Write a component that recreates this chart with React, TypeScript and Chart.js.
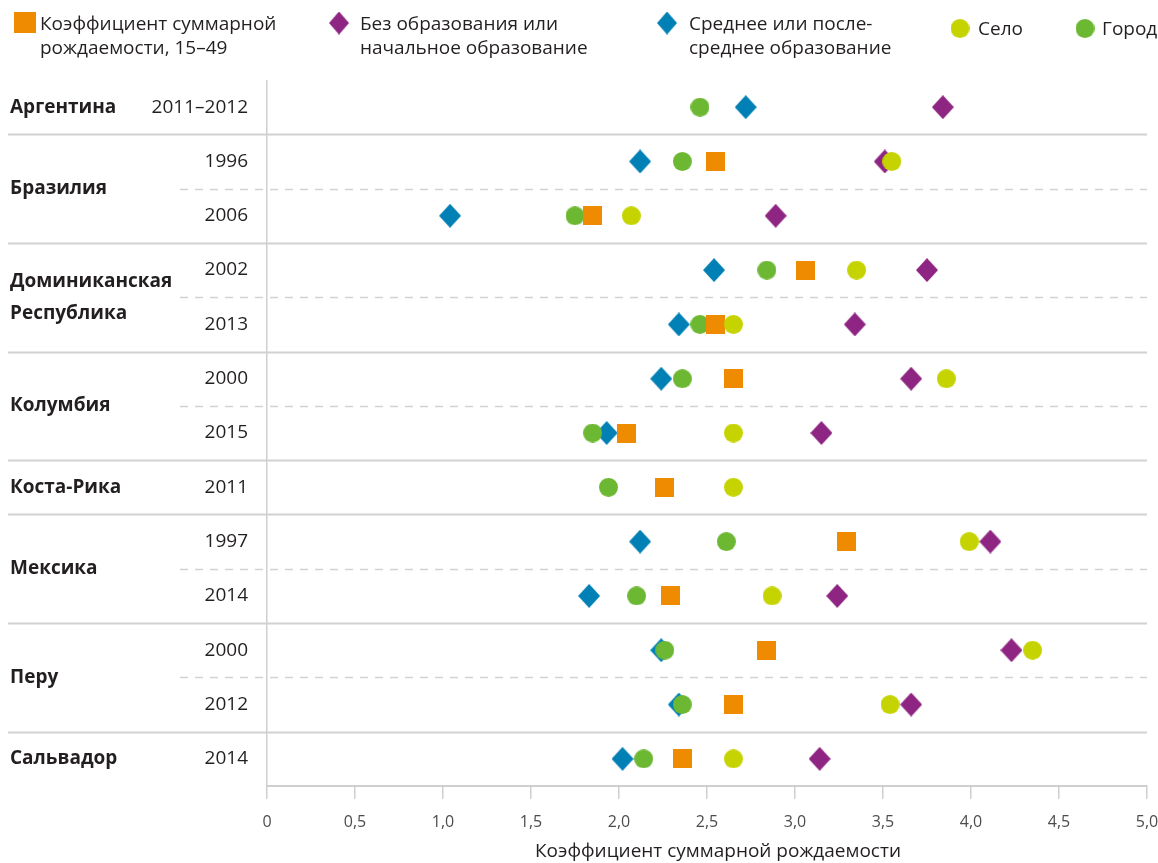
import React, { useEffect, useRef } from "react";
import { Chart, registerables } from "chart.js";
Chart.register(...registerables);

// ---- data ----
const countries: string[][] = [
  ["Аргентина"],
  ["Бразилия"],
  ["Доминиканская", "Республика"],
  ["Колумбия"],
  ["Коста-Рика"],
  ["Мексика"],
  ["Перу"],
  ["Сальвадор"],
];
const rowCountry = [0, 1, 1, 2, 2, 3, 3, 4, 5, 5, 6, 6, 7];
const years = ["2011–2012", "1996", "2006", "2002", "2013", "2000", "2015", "2011", "1997", "2014", "2000", "2012", "2014"];

const tfr: (number | null)[] = [null, 2.55, 1.85, 3.06, 2.55, 2.65, 2.04, 2.26, 3.29, 2.29, 2.84, 2.65, 2.36];
const noEdu: (number | null)[] = [3.84, 3.51, 2.89, 3.75, 3.34, 3.66, 3.15, null, 4.11, 3.24, 4.23, 3.66, 3.14];
const secEdu: (number | null)[] = [2.72, 2.12, 1.04, 2.54, 2.34, 2.24, 1.93, null, 2.12, 1.83, 2.24, 2.34, 2.02];
const rural: (number | null)[] = [null, 3.55, 2.07, 3.35, 2.65, 3.86, 2.65, 2.65, 3.99, 2.87, 4.35, 3.54, 2.65];
const urban: (number | null)[] = [2.46, 2.36, 1.75, 2.84, 2.46, 2.36, 1.85, 1.94, 2.61, 2.10, 2.26, 2.36, 2.14];

const xTicks = [0, 0.5, 1, 1.5, 2, 2.5, 3, 3.5, 4, 4.5, 5];
const axisTitle = "Коэффициент суммарной рождаемости";

const legendItems = [
  { key: "tfr", lines: ["Коэффициент суммарной", "рождаемости, 15–49"] },
  { key: "noEdu", lines: ["Без образования или", "начальное образование"] },
  { key: "secEdu", lines: ["Среднее или после-", "среднее образование"] },
  { key: "rural", lines: ["Село"] },
  { key: "urban", lines: ["Город"] },
];

const COLORS: Record<string, string> = {
  tfr: "#EE8B00",
  noEdu: "#8E2582",
  secEdu: "#0080B4",
  rural: "#C5D400",
  urban: "#6DB833",
};

const FONT = '"Open Sans", "Noto Sans", sans-serif';
const TEXT = "#231F20";

function makeMarker(kind: "square" | "diamond" | "circle", color: string): HTMLCanvasElement {
  const c = document.createElement("canvas");
  let w = 19, h = 19;
  if (kind === "diamond") { w = 22; h = 24; }
  c.width = w; c.height = h;
  const g = c.getContext("2d")!;
  g.fillStyle = color;
  if (kind === "square") {
    g.fillRect(0, 0, w, h);
  } else if (kind === "diamond") {
    g.beginPath();
    g.moveTo(w / 2, 0); g.lineTo(w, h / 2); g.lineTo(w / 2, h); g.lineTo(0, h / 2);
    g.closePath(); g.fill();
  } else {
    g.beginPath();
    g.ellipse(w / 2, h / 2, w / 2, h / 2, 0, 0, Math.PI * 2);
    g.fill();
  }
  return c;
}

function toPoints(arr: (number | null)[]) {
  const out: { x: number; y: number }[] = [];
  arr.forEach((v, i) => { if (v != null) out.push({ x: v, y: i }); });
  return out;
}

export default function App() {
  const ref = useRef<HTMLCanvasElement | null>(null);
  useEffect(() => {
    document.body.style.margin = "0";
    let chart: Chart | null = null;
    let cancelled = false;
    const build = () => {
      if (cancelled || !ref.current) return;
      const markers: Record<string, HTMLCanvasElement> = {
        tfr: makeMarker("square", COLORS.tfr),
        noEdu: makeMarker("diamond", COLORS.noEdu),
        secEdu: makeMarker("diamond", COLORS.secEdu),
        rural: makeMarker("circle", COLORS.rural),
        urban: makeMarker("circle", COLORS.urban),
      };
      const series: Record<string, (number | null)[]> = { tfr, noEdu, secEdu, rural, urban };
      const drawOrder: Record<string, number> = { rural: 1, noEdu: 2, tfr: 3, urban: 4, secEdu: 5 };

      const decor = {
        id: "decor",
        beforeDatasetsDraw(ch: any) {
          const { ctx, chartArea, scales } = ch;
          const y = scales.y;
          ctx.save();
          for (let i = 0; i < years.length - 1; i++) {
            const yy = Math.round(y.getPixelForValue(i + 0.5)) + 0.5;
            const same = rowCountry[i] === rowCountry[i + 1];
            ctx.beginPath();
            ctx.strokeStyle = "#D2D2D2";
            if (same) {
              ctx.lineWidth = 1.5;
              ctx.setLineDash([8, 7]);
              ctx.moveTo(180, yy);
            } else {
              ctx.lineWidth = 2;
              ctx.setLineDash([]);
              ctx.moveTo(8, yy);
            }
            ctx.lineTo(chartArea.right, yy);
            ctx.stroke();
          }
          ctx.setLineDash([]);
          // year labels
          ctx.fillStyle = TEXT;
          ctx.textBaseline = "middle";
          ctx.textAlign = "right";
          ctx.font = `19px ${FONT}`;
          years.forEach((yr, i) => ctx.fillText(yr, 248, y.getPixelForValue(i)));
          // country labels
          ctx.textAlign = "left";
          ctx.font = `bold 19px ${FONT}`;
          countries.forEach((lines, ci) => {
            const rows = rowCountry.map((c, i) => (c === ci ? i : -1)).filter((i) => i >= 0);
            const mid = (rows[0] + rows[rows.length - 1]) / 2;
            const cy = y.getPixelForValue(mid);
            const lh = 32;
            lines.forEach((t, li) => {
              ctx.fillText(t, 10, cy + (li - (lines.length - 1) / 2) * lh);
            });
          });
          ctx.restore();
        },
        afterDraw(ch: any) {
          const { ctx, chartArea } = ch;
          ctx.save();
          ctx.fillStyle = TEXT;
          ctx.textBaseline = "middle";
          ctx.textAlign = "left";
          ctx.font = `19px ${FONT}`;
          const pos: Record<string, { mx: number; my: number; tx: number; ty: number; mw: number; mh: number }> = {
            tfr: { mx: 25, my: 22.5, tx: 40, ty: 25, mw: 22, mh: 21 },
            noEdu: { mx: 339, my: 23, tx: 360, ty: 25, mw: 20, mh: 23 },
            secEdu: { mx: 667, my: 23, tx: 689, ty: 25, mw: 20, mh: 23 },
            rural: { mx: 960, my: 28.5, tx: 978, ty: 30, mw: 19, mh: 19 },
            urban: { mx: 1085, my: 28.5, tx: 1102, ty: 30, mw: 19, mh: 19 },
          };
          legendItems.forEach((it) => {
            const p = pos[it.key];
            const m = markers[it.key];
            ctx.drawImage(m, p.mx - p.mw / 2, p.my - p.mh / 2, p.mw, p.mh);
            it.lines.forEach((t, li) => ctx.fillText(t, p.tx, p.ty + li * 24));
          });
          // x axis title
          ctx.textAlign = "center";
          ctx.fillText(axisTitle, (chartArea.left + chartArea.right) / 2 + 11, 852);
          ctx.restore();
        },
      };

      chart = new Chart(ref.current, {
        type: "scatter",
        data: {
          datasets: legendItems.map((it) => ({
            label: it.lines.join(" "),
            data: toPoints(series[it.key]),
            pointStyle: markers[it.key] as any,
            backgroundColor: COLORS[it.key],
            borderColor: COLORS[it.key],
            order: drawOrder[it.key],
          })),
        },
        options: {
          responsive: false,
          animation: false,
          events: [],
          layout: { padding: { left: 267, top: 80, right: 11, bottom: 0 } },
          plugins: { legend: { display: false }, tooltip: { enabled: false } },
          scales: {
            y: { type: "linear", display: false, min: -0.5, max: years.length - 0.5, reverse: true },
            x: {
              type: "linear",
              min: 0,
              max: 5,
              afterBuildTicks: (s: any) => { s.ticks = xTicks.map((v) => ({ value: v })); },
              afterFit: (s: any) => { s.height = 77; s.paddingLeft = 0; s.paddingRight = 0; },
              border: { display: true, color: "#CFCFCF", width: 2 },
              grid: {
                drawOnChartArea: true,
                color: (c: any) => (c.tick && c.tick.value === 0 ? "#CFCFCF" : "rgba(0,0,0,0)"),
                lineWidth: 1.5,
                tickColor: "#CFCFCF",
                tickLength: 13,
                tickWidth: 1.5,
              },
              ticks: {
                color: "#4D4D4D",
                font: { family: FONT, size: 16 },
                padding: 14,
                maxRotation: 0,
                callback: (v: any) => (Number(v) === 0 ? "0" : Number(v).toFixed(1).replace(".", ",")),
              },
              title: { display: false, text: axisTitle },
            },
          },
        },
        plugins: [decor],
      });
    };
    const fonts = (document as any).fonts;
    if (fonts && fonts.load) {
      Promise.all([fonts.load(`19px "Open Sans"`), fonts.load(`bold 19px "Open Sans"`)]).then(build, build);
    } else build();
    return () => { cancelled = true; if (chart) chart.destroy(); };
  }, []);
  return <canvas ref={ref} width={1158} height={863} style={{ display: "block" }} />;
}
